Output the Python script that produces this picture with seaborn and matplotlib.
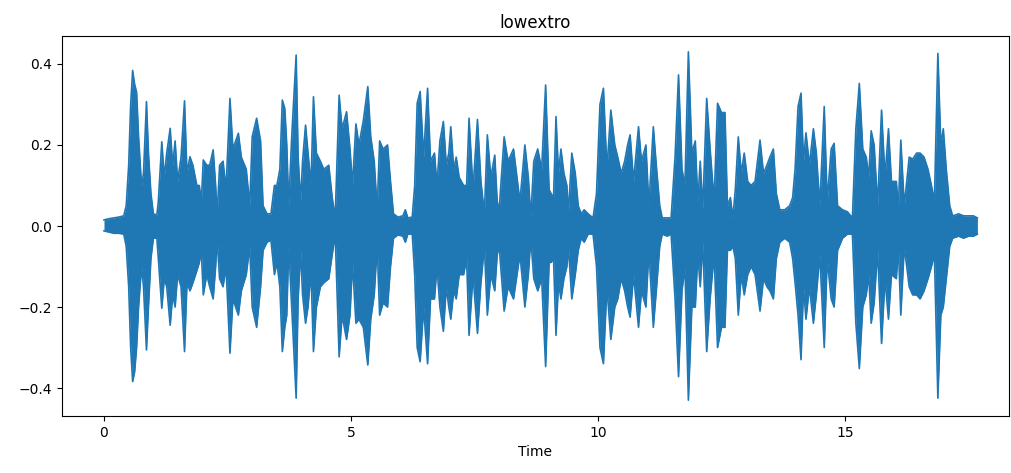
import matplotlib
matplotlib.use("Agg")
import matplotlib.pyplot as plt
import seaborn as sns
import numpy as np

# Waveform envelope (time in s, upper/lower peak amplitude)
time = [0.00, 0.10, 0.20, 0.30, 0.40, 0.45, 0.50, 0.54, 0.58, 0.62, 0.66, 0.70, 0.76, 0.80, 0.86, 0.90, 0.95, 1.00, 1.07, 1.10,
        1.17, 1.22, 1.27, 1.34, 1.39, 1.44, 1.49, 1.56, 1.63, 1.68, 1.74, 1.80, 1.88, 1.93, 1.97, 2.01, 2.08, 2.14, 2.21, 2.26,
        2.29, 2.34, 2.41, 2.47, 2.55, 2.61, 2.72, 2.78, 2.88, 2.95, 3.00, 3.09, 3.17, 3.22, 3.30, 3.38, 3.45, 3.50, 3.56, 3.61,
        3.66, 3.70, 3.74, 3.80, 3.89, 3.93, 3.98, 4.02, 4.08, 4.13, 4.19, 4.24, 4.30, 4.38, 4.45, 4.55, 4.62, 4.68, 4.76, 4.82,
        4.91, 4.98, 5.03, 5.10, 5.16, 5.25, 5.34, 5.40, 5.47, 5.53, 5.58, 5.65, 5.74, 5.80, 5.86, 5.95, 6.05, 6.10, 6.15, 6.24,
        6.29, 6.34, 6.40, 6.47, 6.55, 6.61, 6.69, 6.74, 6.80, 6.87, 6.93, 6.98, 7.02, 7.08, 7.13, 7.19, 7.28, 7.34, 7.39, 7.47,
        7.56, 7.63, 7.70, 7.76, 7.83, 7.91, 7.96, 8.00, 8.10, 8.18, 8.29, 8.36, 8.42, 8.52, 8.59, 8.64, 8.70, 8.78, 8.86, 8.94,
        9.01, 9.05, 9.10, 9.15, 9.20, 9.25, 9.31, 9.37, 9.40, 9.47, 9.54, 9.60, 9.66, 9.72, 9.80, 9.90, 9.97, 10.04, 10.11, 10.18,
        10.26, 10.34, 10.40, 10.47, 10.54, 10.60, 10.65, 10.72, 10.82, 10.88, 10.97, 11.03, 11.12, 11.18, 11.25, 11.30, 11.40, 11.48, 11.56, 11.63,
        11.70, 11.76, 11.83, 11.90, 11.97, 12.02, 12.07, 12.12, 12.20, 12.27, 12.35, 12.42, 12.50, 12.57, 12.62, 12.68, 12.73, 12.78, 12.84, 12.90,
        12.96, 13.03, 13.10, 13.18, 13.28, 13.35, 13.42, 13.48, 13.55, 13.61, 13.68, 13.78, 13.88, 13.94, 13.99, 14.05, 14.11, 14.16, 14.21, 14.28,
        14.36, 14.42, 14.49, 14.58, 14.64, 14.72, 14.78, 14.85, 14.95, 15.05, 15.15, 15.22, 15.29, 15.36, 15.43, 15.48, 15.53, 15.59, 15.66, 15.74,
        15.81, 15.88, 15.94, 16.04, 16.08, 16.13, 16.20, 16.30, 16.37, 16.45, 16.52, 16.60, 16.68, 16.75, 16.81, 16.88, 16.94, 16.99, 17.05, 17.12,
        17.18, 17.30, 17.40, 17.50, 17.60, 17.68]

upper = [0.015, 0.018, 0.020, 0.022, 0.025, 0.05, 0.15, 0.30, 0.384, 0.35, 0.33, 0.22, 0.10, 0.13, 0.307, 0.18, 0.08, 0.03, 0.027, 0.06,
         0.208, 0.12, 0.18, 0.241, 0.15, 0.21, 0.11, 0.17, 0.309, 0.13, 0.171, 0.15, 0.10, 0.10, 0.057, 0.163, 0.15, 0.15, 0.188, 0.10,
         0.025, 0.15, 0.16, 0.09, 0.315, 0.19, 0.229, 0.17, 0.14, 0.05, 0.22, 0.266, 0.21, 0.05, 0.03, 0.03, 0.10, 0.10, 0.14, 0.311,
         0.29, 0.20, 0.05, 0.22, 0.422, 0.17, 0.06, 0.16, 0.249, 0.18, 0.10, 0.319, 0.18, 0.16, 0.14, 0.15, 0.07, 0.02, 0.323, 0.24,
         0.282, 0.19, 0.10, 0.252, 0.20, 0.26, 0.344, 0.22, 0.16, 0.04, 0.21, 0.19, 0.20, 0.11, 0.03, 0.022, 0.025, 0.04, 0.02, 0.022,
         0.10, 0.303, 0.332, 0.17, 0.34, 0.16, 0.18, 0.10, 0.21, 0.258, 0.15, 0.18, 0.245, 0.14, 0.17, 0.12, 0.10, 0.10, 0.266, 0.09,
         0.263, 0.11, 0.03, 0.225, 0.12, 0.175, 0.06, 0.04, 0.22, 0.16, 0.19, 0.12, 0.06, 0.20, 0.12, 0.02, 0.16, 0.19, 0.14, 0.348,
         0.09, 0.08, 0.07, 0.27, 0.13, 0.19, 0.13, 0.10, 0.03, 0.18, 0.13, 0.05, 0.03, 0.04, 0.03, 0.02, 0.08, 0.30, 0.34, 0.14,
         0.286, 0.20, 0.17, 0.13, 0.16, 0.20, 0.225, 0.11, 0.245, 0.16, 0.20, 0.05, 0.245, 0.15, 0.05, 0.02, 0.02, 0.02, 0.17, 0.373,
         0.14, 0.10, 0.43, 0.18, 0.21, 0.06, 0.16, 0.04, 0.315, 0.19, 0.06, 0.303, 0.28, 0.28, 0.05, 0.07, 0.02, 0.09, 0.22, 0.13,
         0.18, 0.11, 0.10, 0.11, 0.212, 0.13, 0.15, 0.17, 0.19, 0.08, 0.04, 0.04, 0.05, 0.07, 0.14, 0.295, 0.328, 0.16, 0.23, 0.15,
         0.24, 0.18, 0.05, 0.295, 0.06, 0.19, 0.204, 0.05, 0.04, 0.035, 0.02, 0.24, 0.352, 0.19, 0.17, 0.12, 0.235, 0.20, 0.05, 0.286,
         0.12, 0.24, 0.11, 0.11, 0.04, 0.212, 0.05, 0.17, 0.165, 0.18, 0.18, 0.17, 0.14, 0.10, 0.06, 0.426, 0.20, 0.24, 0.14, 0.05,
         0.025, 0.03, 0.025, 0.025, 0.025, 0.02]

lower = [-0.012, -0.015, -0.018, -0.018, -0.020, -0.05, -0.15, -0.30, -0.384, -0.36, -0.30, -0.20, -0.10, -0.15, -0.306, -0.20, -0.08, -0.03, -0.03, -0.08,
         -0.203, -0.13, -0.15, -0.245, -0.17, -0.20, -0.12, -0.15, -0.31, -0.14, -0.16, -0.14, -0.11, -0.09, -0.06, -0.17, -0.12, -0.15, -0.18, -0.10,
         -0.03, -0.13, -0.15, -0.10, -0.314, -0.18, -0.22, -0.16, -0.12, -0.05, -0.20, -0.25, -0.15, -0.06, -0.04, -0.035, -0.12, -0.09, -0.15, -0.31,
         -0.25, -0.22, -0.05, -0.20, -0.425, -0.18, -0.06, -0.17, -0.24, -0.20, -0.11, -0.31, -0.20, -0.15, -0.14, -0.13, -0.07, -0.02, -0.323, -0.22,
         -0.28, -0.22, -0.09, -0.24, -0.23, -0.25, -0.343, -0.23, -0.17, -0.05, -0.22, -0.19, -0.20, -0.10, -0.03, -0.022, -0.025, -0.04, -0.02, -0.02,
         -0.12, -0.30, -0.335, -0.20, -0.34, -0.18, -0.18, -0.10, -0.20, -0.26, -0.15, -0.20, -0.23, -0.16, -0.18, -0.12, -0.12, -0.08, -0.27, -0.12,
         -0.265, -0.14, -0.05, -0.22, -0.12, -0.16, -0.07, -0.05, -0.21, -0.15, -0.18, -0.12, -0.07, -0.20, -0.12, -0.03, -0.13, -0.16, -0.13, -0.347,
         -0.09, -0.09, -0.08, -0.27, -0.14, -0.18, -0.13, -0.10, -0.05, -0.18, -0.12, -0.06, -0.03, -0.04, -0.02, -0.02, -0.10, -0.30, -0.34, -0.15,
         -0.28, -0.20, -0.18, -0.13, -0.16, -0.20, -0.225, -0.12, -0.25, -0.16, -0.20, -0.06, -0.25, -0.16, -0.05, -0.02, -0.025, -0.02, -0.18, -0.372,
         -0.16, -0.10, -0.43, -0.20, -0.20, -0.07, -0.15, -0.04, -0.31, -0.18, -0.07, -0.30, -0.25, -0.25, -0.06, -0.06, -0.05, -0.08, -0.22, -0.12,
         -0.17, -0.12, -0.10, -0.12, -0.21, -0.13, -0.15, -0.16, -0.18, -0.08, -0.04, -0.03, -0.04, -0.08, -0.14, -0.22, -0.33, -0.15, -0.23, -0.15,
         -0.24, -0.17, -0.07, -0.30, -0.08, -0.18, -0.20, -0.06, -0.03, -0.02, -0.02, -0.24, -0.352, -0.20, -0.17, -0.12, -0.24, -0.19, -0.06, -0.29,
         -0.13, -0.23, -0.12, -0.13, -0.05, -0.22, -0.05, -0.15, -0.17, -0.17, -0.18, -0.16, -0.13, -0.10, -0.07, -0.425, -0.22, -0.20, -0.13, -0.05,
         -0.03, -0.025, -0.03, -0.025, -0.025, -0.02]

title = "lowextro"
xlabel = "Time"
xticks = [0, 5, 10, 15]
yticks = [-0.4, -0.2, 0.0, 0.2, 0.4]

color = "#1f77b4"

fig, ax = plt.subplots(figsize=(10.11, 4.73), dpi=100)
fig.subplots_adjust(left=62/1011, right=1009/1011, top=1-36/473, bottom=1-416/473)

ax.fill_between(time, lower, upper, color=color, linewidth=0)
sns.lineplot(x=time, y=upper, ax=ax, color=color, linewidth=1.2, estimator=None)
sns.lineplot(x=time, y=lower, ax=ax, color=color, linewidth=1.2, estimator=None)

ax.set_xlim(-0.85, 18.32)
ax.set_ylim(-0.469, 0.469)
ax.set_xticks(xticks)
ax.set_xticklabels([str(v) for v in xticks])
ax.set_yticks(yticks)
ax.set_title(title, fontsize=12)
ax.set_xlabel(xlabel)
ax.set_ylabel("")

fig.savefig("out.png", dpi=100)
